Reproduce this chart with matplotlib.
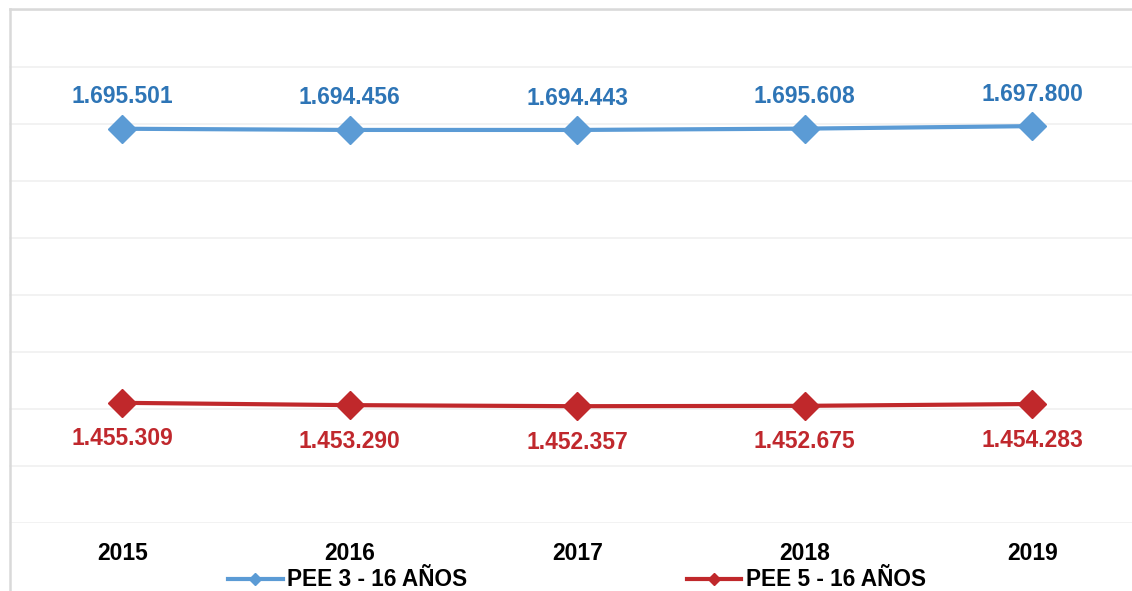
import matplotlib.pyplot as plt
from matplotlib.lines import Line2D

years = ['2015', '2016', '2017', '2018', '2019']
pee_3_16 = [1695501, 1694456, 1694443, 1695608, 1697800]
pee_5_16 = [1455309, 1453290, 1452357, 1452675, 1454283]
series_names = ['PEE 3 - 16 AÑOS', 'PEE 5 - 16 AÑOS']

plt.rcParams['font.family'] = ['Liberation Sans', 'DejaVu Sans']

W, H = 1132, 591
fig = plt.figure(figsize=(W / 100, H / 100), dpi=100)
fig.patch.set_facecolor('white')

# plot area (runs a bit past the right edge, as in the screenshot)
left, right, top, bottom = 8.5, 1146, 9.5, 523
ax = fig.add_axes([left / W, (H - bottom) / H, (right - left) / W, (bottom - top) / H])

blue = '#5b9bd5'
red = '#c0282b'
blue_txt = '#2e75b6'
red_txt = '#c0282d'

x = list(range(len(years)))
ax.plot(x, pee_3_16, color=blue, lw=3, marker='D', ms=14, label=series_names[0])
ax.plot(x, pee_5_16, color=red, lw=3, marker='D', ms=14, label=series_names[1])


def fmt(v):
    return f'{v:,}'.replace(',', '.')


for i, v in enumerate(pee_3_16):
    ax.annotate(fmt(v), (i, v), xytext=(0, 23), textcoords='offset points',
                ha='center', va='center', color=blue_txt, fontsize=16.5, fontweight='bold')
for i, v in enumerate(pee_5_16):
    ax.annotate(fmt(v), (i, v), xytext=(0, -26), textcoords='offset points',
                ha='center', va='center', color=red_txt, fontsize=16.5, fontweight='bold')

ax.set_xlim(-0.5, len(years) - 0.5)
ax.set_ylim(1350000, 1800000)
ax.set_yticks(range(1350000, 1800001, 50000))
ax.set_xticks(x)
ax.set_xticklabels(years, fontsize=16.5, fontweight='bold')
ax.tick_params(axis='x', length=0, pad=14)
ax.tick_params(axis='y', length=0, labelleft=False)
ax.grid(axis='y', color='#f0f0f0', lw=1.2)
ax.set_axisbelow(True)
for s in ax.spines.values():
    s.set_visible(False)

# outer chart border (left and top visible)
fig.add_artist(Line2D([10 / W, 10 / W], [0, (H - 9) / H], color='#d9d9d9', lw=1.8))
fig.add_artist(Line2D([10 / W, 1], [(H - 9) / H, (H - 9) / H], color='#d9d9d9', lw=1.8))

leg = fig.legend(loc='center', bbox_to_anchor=(577 / W, (H - 580) / H), ncol=2,
                 frameon=False, prop={'size': 16.3, 'weight': 'bold'},
                 handlelength=2.4, handletextpad=0.2, columnspacing=9.7,
                 markerscale=0.45, borderpad=0)

plt.savefig('out.png', dpi=100)
plt.close()
